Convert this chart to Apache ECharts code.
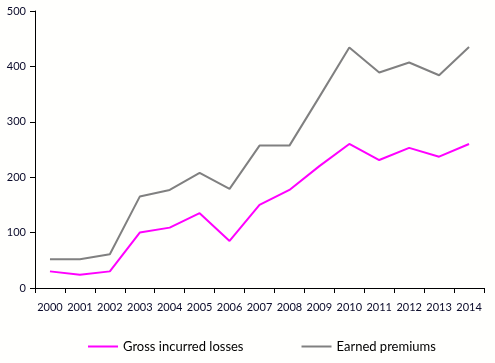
<!DOCTYPE html>
<html><head><meta charset="utf-8">
<script src="https://cdn.jsdelivr.net/npm/echarts@6/dist/echarts.min.js"></script>
<style>html,body{margin:0;padding:0;background:#fffffd;}#c{width:495px;height:363px;}</style>
</head><body><div id="c"></div>
<script>
const years = ['2000','2001','2002','2003','2004','2005','2006','2007','2008','2009','2010','2011','2012','2013','2014'];
const grossLosses = [30, 24, 30, 100, 109, 135, 85, 150, 177, 220, 260, 231, 253, 237, 260];
const earnedPremiums = [52, 52, 61, 165, 177, 208, 179, 257, 257, 345, 434, 389, 407, 384, 435];
const yTicks = [0, 100, 200, 300, 400, 500];

const chart = echarts.init(document.getElementById('c'), null, {renderer:'canvas'});
const font = 'Lato';
chart.setOption({
  backgroundColor: '#fffffd',
  animation: false,
  grid: {left: 35, right: 11, top: 11, bottom: 75, containLabel: false},
  legend: {
    bottom: 5, left: 83, itemGap: 58, itemWidth: 30, itemHeight: 2,
    icon: 'rect',
    textStyle: {fontFamily: font, fontSize: 13, color: '#000'},
    data: ['Gross incurred losses', 'Earned premiums']
  },
  xAxis: {
    type: 'category', data: years, boundaryGap: true,
    axisLine: {lineStyle: {color: '#000', width: 1}},
    axisTick: {show: true, inside: false, length: 5, lineStyle: {color: '#000'}},
    axisLabel: {fontFamily: font, fontSize: 11, color: '#0a0a2a', margin: 14, interval: 0}
  },
  yAxis: {
    type: 'value', min: yTicks[0], max: yTicks[yTicks.length-1], interval: 100,
    axisLine: {show: true, lineStyle: {color: '#000', width: 1}},
    axisTick: {show: true, length: 5, lineStyle: {color: '#000'}},
    splitLine: {show: false},
    axisLabel: {fontFamily: font, fontSize: 11, color: '#0a0a2a', margin: 9}
  },
  series: [
    {name: 'Gross incurred losses', type: 'line', data: grossLosses, symbol: 'none',
     lineStyle: {color: '#ff00ff', width: 2}, itemStyle: {color: '#ff00ff'}},
    {name: 'Earned premiums', type: 'line', data: earnedPremiums, symbol: 'none',
     lineStyle: {color: '#808080', width: 2}, itemStyle: {color: '#808080'}}
  ]
});
</script></body></html>
